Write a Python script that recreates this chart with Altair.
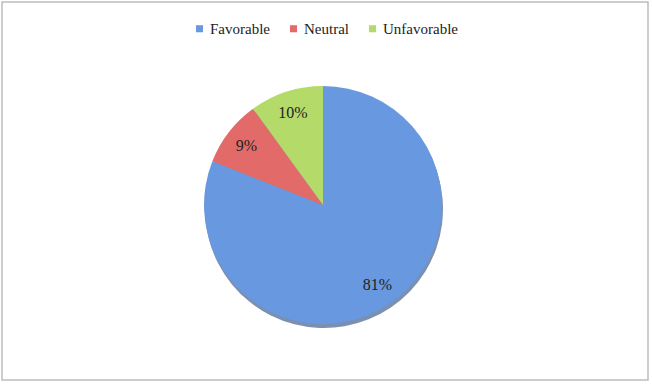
import altair as alt
import pandas as pd

categories = ["Favorable", "Neutral", "Unfavorable"]
values = [81, 9, 10]
labels = ["81%", "9%", "10%"]
colors = ["#6898df", "#e26b69", "#b4db69"]

df = pd.DataFrame({"category": categories, "value": values, "label": labels,
                   "order": [0, 1, 2]})

cx, cy, r = 321, 203, 119

base = alt.Chart(df).encode(
    theta=alt.Theta("value:Q", stack=True),
    order=alt.Order("order:Q"),
)

shadow = base.mark_arc(radius=r, color="#23467d", opacity=0.6).encode(
    x=alt.value(cx + 1), y=alt.value(cy + 4)
)

pie = base.mark_arc(radius=r, strokeWidth=0).encode(
    x=alt.value(cx), y=alt.value(cy),
    color=alt.Color(
        "category:N",
        scale=alt.Scale(domain=categories, range=colors),
        sort=categories,
        legend=alt.Legend(
            title=None, orient="none", direction="horizontal",
            legendX=190, legendY=19,
            symbolType="square", symbolSize=50, symbolStrokeWidth=0,
            labelFont="Liberation Serif", labelFontSize=15, labelColor="#222222",
            columnPadding=16, labelOffset=3,
        ),
    ),
)

text = base.mark_text(radius=97, font="Liberation Serif", fontSize=16,
                      color="#222222").encode(
    x=alt.value(cx), y=alt.value(cy),
    text="label:N",
)

chart = alt.layer(shadow, pie, text).properties(
    width=646, height=378,
    padding={"left": 2, "top": 2, "right": 4, "bottom": 6},
    autosize=alt.AutoSizeParams(type="none"),
    background="#ffffff",
).configure_view(stroke="#bdbdbd", strokeWidth=1.5)

chart.save("out.html", embed_options={"renderer": "svg", "actions": False})
